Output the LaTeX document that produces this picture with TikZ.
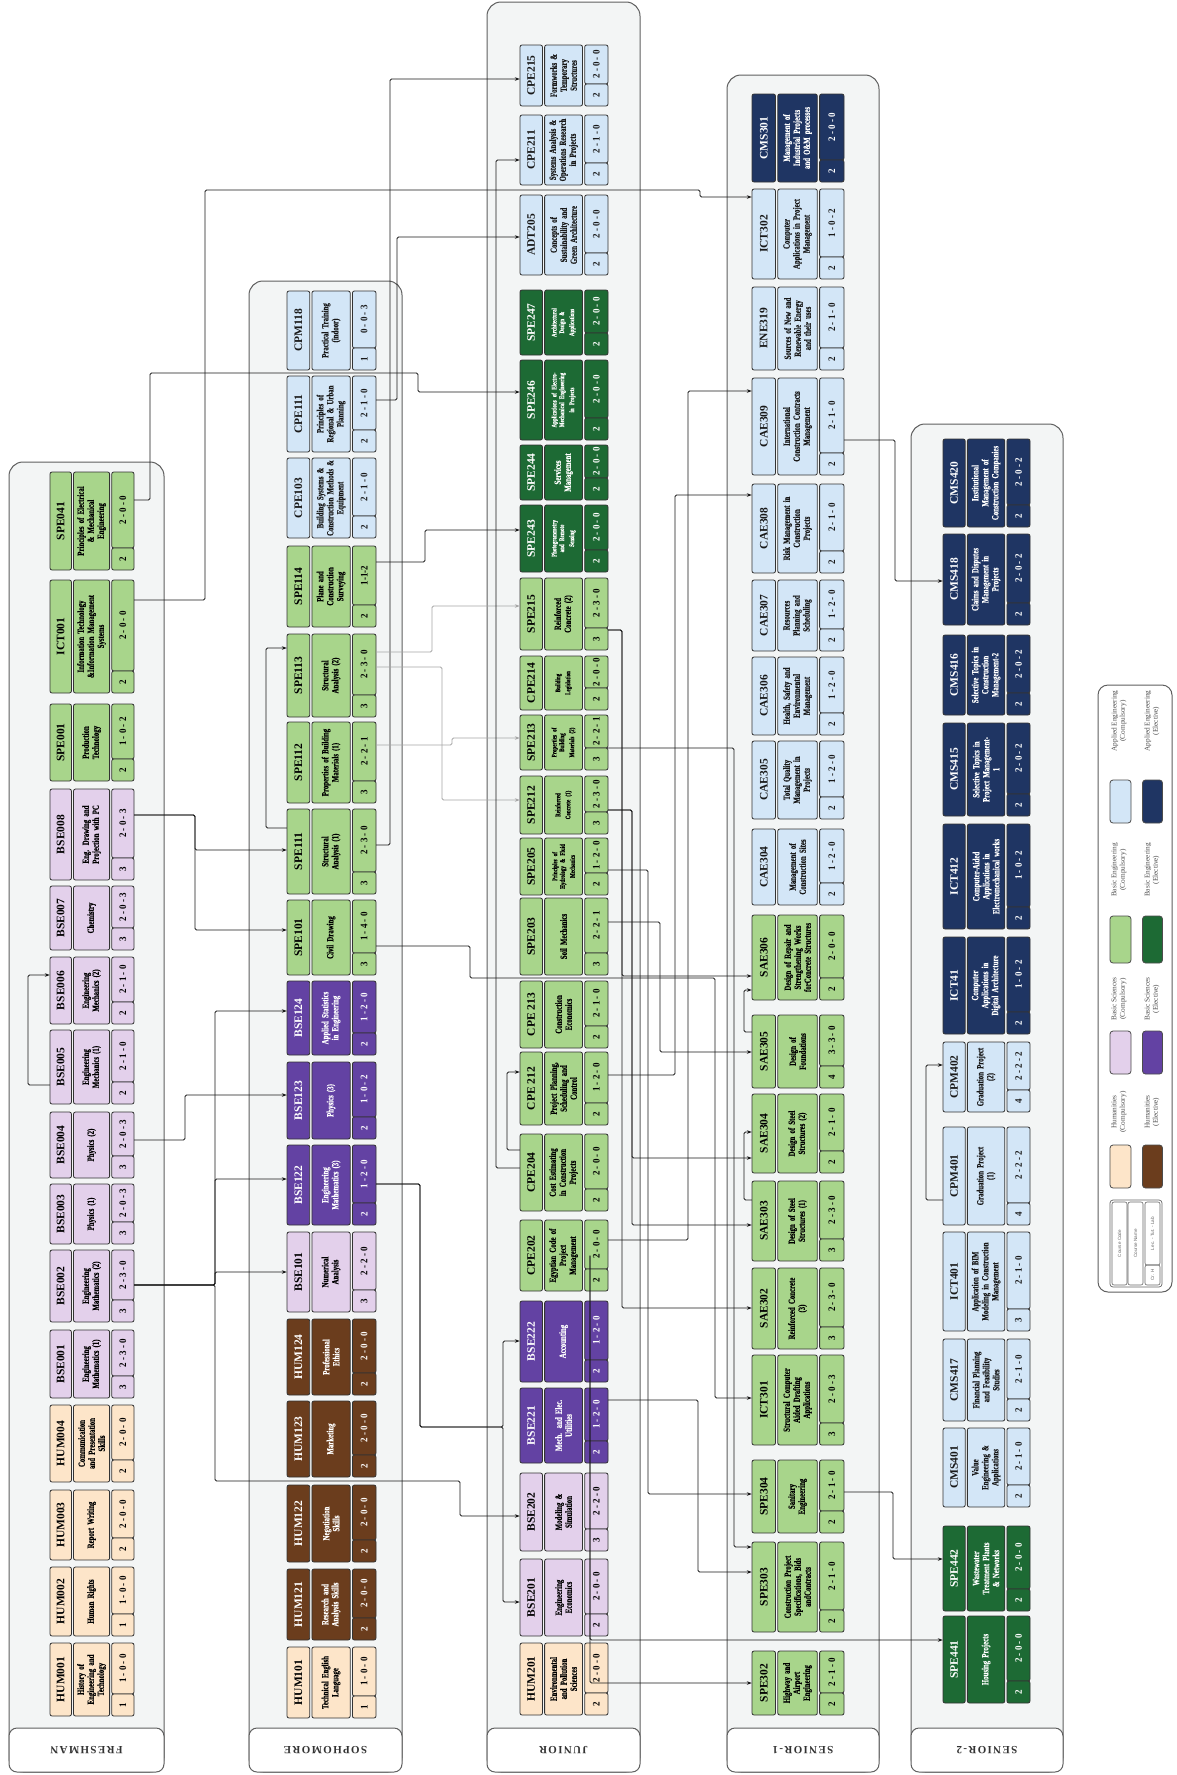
\documentclass[tikz,border=0pt]{standalone}
\usepackage{fontspec}
\setmainfont{Liberation Serif}
\newfontfamily\cardfont[FakeStretch=0.72,BoldFeatures={FakeBold=0.4}]{Liberation Serif}
\newfontfamily\numfam[FakeStretch=0.9]{Liberation Serif}
\newfontfamily\yearfont[LetterSpace=12]{Liberation Serif}
\newfontfamily\keyfont{Liberation Sans}
\usetikzlibrary{arrows.meta}
\definecolor{hc}{HTML}{FDE5C9}
\definecolor{he}{HTML}{6B3D1D}
\definecolor{sc}{HTML}{E3D0EB}
\definecolor{se}{HTML}{6342A3}
\definecolor{ec}{HTML}{A8D58B}
\definecolor{ee}{HTML}{1D6A34}
\definecolor{ac}{HTML}{D3E6F7}
\definecolor{ae}{HTML}{1F3563}
\definecolor{panelfill}{HTML}{F3F5F5}
\definecolor{panelline}{HTML}{5F5F5F}
\newcommand\codefont{\bfseries\fontsize{11.5}{12}\selectfont}
\newcommand\namefont{\cardfont\bfseries\fontsize{9.5}{10}\selectfont}
\newcommand\numfont{\numfam\bfseries\fontsize{10}{10}\selectfont}
\newcommand\smallnm{\fontsize{7}{7.6}\selectfont}
\def\cardw{84}
\def\crh{22}
\tikzset{
 strip/.style={draw=black!80, line width=0.8pt, rounded corners=2pt, rotate=90, inner sep=0.5pt, anchor=center},
 cHumC/.style={fill=hc,text=black},
 cHumE/.style={fill=he,text=white},
 cSciC/.style={fill=sc,text=black},
 cSciE/.style={fill=se,text=white},
 cEngC/.style={fill=ec,text=black},
 cEngE/.style={fill=ee,text=white},
 cAppC/.style={fill=ac,text=black!90},
 cAppE/.style={fill=ae,text=white},
 cardnode/.style={inner sep=0pt, draw=none},
 conn/.style={draw=black!90, line width=0.8pt, rounded corners=1.5pt, -{Stealth[length=5pt,width=3.6pt]}},
 gconn/.style={conn, draw=black!35},
 panel/.style={fill=panelfill, draw=panelline, line width=1pt, rounded corners=14pt},
 yearbox/.style={fill=white, draw=panelline, line width=1pt, rounded corners=8pt, inner sep=0pt, font=\yearfont\bfseries\fontsize{11}{12}\selectfont, text=black!80, rotate=180},
 legsw/.style={draw=black!70, line width=0.8pt, rounded corners=3pt, inner sep=0pt},
 legtxt/.style={rotate=90, align=center, inner sep=0pt, font=\fontsize{7.3}{8.3}\selectfont, text=black!70},
 keytxt/.style={rotate=90, inner sep=0pt, font=\keyfont\fontsize{4.6}{5}\selectfont, text=black!60},
 keystrip/.style={draw=black!60, line width=0.6pt, rounded corners=2pt, inner sep=0pt},
}
\newcommand{\crs}[9]{%
\pgfmathsetmacro\cHH{#4-#3}%
\pgfmathsetmacro\cYY{(#3+#4)/2}%
\pgfmathsetmacro\cWa{0.255*\cardw}%
\pgfmathsetmacro\cWb{0.43*\cardw}%
\pgfmathsetmacro\cWc{0.265*\cardw}%
\pgfmathsetmacro\cXm{#2+\cardw/2}%
\pgfmathsetmacro\cXa{#2+\cWa/2}%
\pgfmathsetmacro\cXb{#2+0.28*\cardw+\cWb/2}%
\pgfmathsetmacro\cXc{#2+\cardw-\cWc/2}%
\pgfmathsetmacro\cTw{\cHH-3}%
\pgfmathsetmacro\cHl{\cHH-\crh}%
\pgfmathsetmacro\cYl{#3+\cHl/2}%
\pgfmathsetmacro\cYk{#4-\crh/2}%
\node[cardnode,minimum width=\cardw pt,minimum height=\cHH pt] (#1) at (\cXm,\cYY) {};%
\node[strip,#5,minimum width=\cHH pt,minimum height=\cWa pt,font=\codefont] (#1-c) at (\cXa,\cYY) {#6};%
\node[strip,#5,minimum width=\cHH pt,minimum height=\cWb pt,text width=\cTw pt,align=center,font=\namefont] (#1-n) at (\cXb,\cYY) {#7};%
\node[strip,#5,minimum width=\cHl pt,minimum height=\cWc pt,font=\numfont] (#1-l) at (\cXc,\cYl) {#8};%
\node[strip,#5,minimum width=\crh pt,minimum height=\cWc pt,font=\numfont] (#1-k) at (\cXc,\cYk) {#9};%
}
\begin{document}
\begin{tikzpicture}[x=1pt,y=-1pt]
\useasboundingbox (0,0) rectangle (1176,1775);
\fill[white] (0,0) rectangle (1176,1775);
% ---------- panels ----------
\draw[panel] (9,462) rectangle (164,1772);
\draw[panel] (249,281) rectangle (402,1772);
\draw[panel] (487,2) rectangle (640,1772);
\draw[panel] (727,75) rectangle (879,1772);
\draw[panel] (911,424) rectangle (1063,1772);
\node[yearbox, minimum width=155pt, minimum height=44pt] (yFR) at (86.5,1750) {FRESHMAN};
\node[yearbox, minimum width=153pt, minimum height=44pt] (ySO) at (325.5,1750) {SOPHOMORE};
\node[yearbox, minimum width=153pt, minimum height=44pt] (yJU) at (563.5,1750) {JUNIOR};
\node[yearbox, minimum width=152pt, minimum height=44pt] (yS1) at (803,1750) {SENIOR-1};
\node[yearbox, minimum width=152pt, minimum height=44pt] (yS2) at (987,1750) {SENIOR-2};
% ---------- Freshman ----------
\def\cardw{84}
\crs{SPE041}{50}{472}{570}{cEngC}{SPE041}{Principles of Electrical\\\& Mechanical\\Engineering}{2 - 0 - 0}{2}
\crs{ICT001}{50}{580}{693}{cEngC}{ICT001}{Information Technology\\\&Information Management\\Systems}{2 - 0 - 0}{2}
\crs{SPE001}{50}{704}{781}{cEngC}{SPE001}{Production\\Technology}{1 - 0 - 2}{2}
\crs{BSE008}{50}{789}{880}{cSciC}{BSE008}{Eng. Drawing and\\Projection with PC}{2 - 0 - 3}{3}
\crs{BSE007}{50}{886}{950}{cSciC}{BSE007}{Chemistry}{2 - 0 - 3}{3}
\crs{BSE006}{50}{957}{1024}{cSciC}{BSE006}{Engineering\\Mechanics (2)}{2 - 1 - 0}{2}
\crs{BSE005}{50}{1030}{1104}{cSciC}{BSE005}{Engineering\\Mechanics (1)}{2 - 1 - 0}{2}
\crs{BSE004}{50}{1112}{1178}{cSciC}{BSE004}{Physics (2)}{2 - 0 - 3}{3}
\crs{BSE003}{50}{1184}{1244}{cSciC}{BSE003}{Physics (1)}{2 - 0 - 3}{3}
\crs{BSE002}{50}{1250}{1322}{cSciC}{BSE002}{Engineering\\Mathematics (2)}{2 - 3 - 0}{3}
\crs{BSE001}{50}{1330}{1398}{cSciC}{BSE001}{Engineering\\Mathematics (1)}{2 - 3 - 0}{3}
\crs{HUM004}{50}{1405}{1482}{cHumC}{HUM004}{Communication\\and Presentation\\Skills}{2 - 0 - 0}{2}
\crs{HUM003}{50}{1490}{1560}{cHumC}{HUM003}{Report Writing}{2 - 0 - 0}{2}
\crs{HUM002}{50}{1567}{1636}{cHumC}{HUM002}{Human Rights}{1 - 0 - 0}{1}
\crs{HUM001}{50}{1643}{1716}{cHumC}{HUM001}{History of\\Engineering and\\Technology}{1 - 0 - 0}{1}
% ---------- Sophomore ----------
\def\cardw{89}
\crs{CPM118}{287}{291}{370}{cAppC}{CPM118}{Practical Training\\(indoor)}{0 - 0 - 3}{1}
\crs{CPE111}{287}{376}{452}{cAppC}{CPE111}{Principles of\\Regional \& Urban\\Planning}{2 - 1 - 0}{2}
\crs{CPE103}{287}{458}{538}{cAppC}{CPE103}{Building Systems \&\\Construction Methods \&\\Equipment}{2 - 1 - 0}{2}
\crs{SPE114}{287}{546}{627}{cEngC}{SPE114}{Plane and\\Construction\\Surveying}{1-1-2}{2}
\crs{SPE113}{287}{634}{717}{cEngC}{SPE113}{Structural\\Analysis (2)}{2 - 3 - 0}{3}
\crs{SPE112}{287}{722}{803}{cEngC}{SPE112}{Properties of Building\\Materials (1)}{2 - 2 - 1}{3}
\crs{SPE111}{287}{809}{894}{cEngC}{SPE111}{Structural\\Analysis (1)}{2 - 3 - 0}{3}
\crs{SPE101}{287}{900}{975}{cEngC}{SPE101}{Civil Drawing}{1 - 4 - 0}{3}
\crs{BSE124}{287}{981}{1055}{cSciE}{BSE124}{Applied Statistics\\in Engineering}{1 - 2 - 0}{2}
\crs{BSE123}{287}{1062}{1139}{cSciE}{BSE123}{Physics (3)}{1 - 0 - 2}{2}
\crs{BSE122}{287}{1145}{1225}{cSciE}{BSE122}{Engineering\\Mathematics (3)}{1 - 2 - 0}{2}
\crs{BSE101}{287}{1232}{1312}{cSciC}{BSE101}{Numerical\\Analysis}{2 - 2 - 0}{3}
\crs{HUM124}{287}{1319}{1395}{cHumE}{HUM124}{Professional\\Ethics}{2 - 0 - 0}{2}
\crs{HUM123}{287}{1401}{1477}{cHumE}{HUM123}{Marketing}{2 - 0 - 0}{2}
\crs{HUM122}{287}{1485}{1562}{cHumE}{HUM122}{Negotiation\\Skills}{2 - 0 - 0}{2}
\crs{HUM121}{287}{1569}{1640}{cHumE}{HUM121}{Research and\\Analysis Skills}{2 - 0 - 0}{2}
\crs{HUM101}{287}{1647}{1718}{cHumC}{HUM101}{Technical English\\Language}{1 - 0 - 0}{1}
% ---------- Junior ----------
\def\cardw{88}
\crs{CPE215}{520}{45}{106}{cAppC}{CPE215}{Formworks \&\\Temporary\\Structures}{2 - 0 - 0}{2}
\crs{CPE211}{520}{115}{185}{cAppC}{CPE211}{Systems Analysis \&\\Operations Research\\in Projects}{2 - 1 - 0}{2}
\crs{ADT205}{520}{195}{275}{cAppC}{ADT205}{Concepts of\\Sustainability and\\Green Architecture}{2 - 0 - 0}{2}
\crs{SPE247}{520}{290}{355}{cEngE}{SPE247}{\smallnm Architectural\\Design \&\\Applications}{2 - 0 - 0}{2}
\crs{SPE246}{520}{360}{440}{cEngE}{SPE246}{\smallnm Applications of Electro-\\Mechanical Engineering\\in Projects}{2 - 0 - 0}{2}
\crs{SPE244}{520}{445}{500}{cEngE}{SPE244}{Services\\Management}{2 - 0 - 0}{2}
\crs{SPE243}{520}{505}{572}{cEngE}{SPE243}{\smallnm Photogrammetry\\and Remote\\Sensing}{2 - 0 - 0}{2}
\crs{SPE215}{520}{578}{650}{cEngC}{SPE215}{Reinforced\\Concrete (2)}{2 - 3 - 0}{3}
\crs{CPE214}{520}{656}{710}{cEngC}{CPE214}{\smallnm Building\\Legislation}{2 - 0 - 0}{2}
\crs{SPE213}{520}{715}{770}{cEngC}{SPE213}{\smallnm Properties of\\Building\\Materials (2)}{2 - 2 - 1}{3}
\crs{SPE212}{520}{776}{834}{cEngC}{SPE212}{\smallnm Reinforced\\Concrete (1)}{2 - 3 - 0}{3}
\crs{SPE205}{520}{838}{895}{cEngC}{SPE205}{\smallnm Principles of\\Hydrology \& Fluid\\Mechanics}{1 - 2 - 0}{2}
\crs{SPE203}{520}{898}{975}{cEngC}{SPE203}{Soil Mechanics}{2 - 2 - 1}{3}
\crs{CPE213}{520}{981}{1048}{cEngC}{CPE 213}{Construction\\Economics}{2 - 1 - 0}{2}
\crs{CPE212}{520}{1052}{1125}{cEngC}{CPE 212}{Project Planning,\\Scheduling and\\Control}{1 - 2 - 0}{2}
\crs{CPE204}{520}{1134}{1211}{cEngC}{CPE204}{Cost Estimating\\in Construction\\Projects}{2 - 0 - 0}{2}
\crs{CPE202}{520}{1220}{1291}{cEngC}{CPE202}{Egyptian Code of\\Project\\Management}{2 - 0 - 0}{2}
\crs{BSE222}{520}{1301}{1382}{cSciE}{BSE222}{Accounting}{1 - 2 - 0}{2}
\crs{BSE221}{520}{1388}{1463}{cSciE}{BSE221}{Mech. and Elec.\\Utilities}{1 - 2 - 0}{2}
\crs{BSE202}{520}{1473}{1551}{cSciC}{BSE202}{Modeling \&\\Simulation}{2 - 2 - 0}{3}
\crs{BSE201}{520}{1559}{1636}{cSciC}{BSE201}{Engineering\\Economics}{2 - 0 - 0}{2}
\crs{HUM201}{520}{1643}{1715}{cHumC}{HUM201}{Environmental\\and Pollution\\Sciences}{2 - 0 - 0}{2}
% ---------- Senior-1 ----------
\def\cardw{92}
\crs{CMS301}{752}{94}{182}{cAppE}{CMS301}{Management of\\Industrial Projects\\and O\&M processes}{2 - 0 - 0}{2}
\crs{ICT302}{752}{189}{279}{cAppC}{ICT302}{Computer\\Applications in Project\\Management}{1 - 0 - 2}{2}
\crs{ENE319}{752}{287}{370}{cAppC}{ENE319}{Sources of New and\\Renewable Energy\\and their uses}{2 - 1 - 0}{2}
\crs{CAE309}{752}{378}{475}{cAppC}{CAE309}{International\\Construction Contracts\\Management}{2 - 1 - 0}{2}
\crs{CAE308}{752}{484}{573}{cAppC}{CAE308}{Risk Management in\\Construction\\Projects}{2 - 1 - 0}{2}
\crs{CAE307}{752}{580}{651}{cAppC}{CAE307}{Resources\\Planning and\\Scheduling}{1 - 2 - 0}{2}
\crs{CAE306}{752}{657}{735}{cAppC}{CAE306}{Health, Safety and\\Environmental\\Management}{1 - 2 - 0}{2}
\crs{CAE305}{752}{741}{819}{cAppC}{CAE305}{Total Quality\\Management in\\Projects}{1 - 2 - 0}{2}
\crs{CAE304}{752}{829}{905}{cAppC}{CAE304}{Management of\\Construction Sites}{1 - 2 - 0}{2}
\crs{SAE306}{752}{915}{1000}{cEngC}{SAE306}{Design of Repair and\\Strengthening Works\\forConcrete Structures}{2 - 0 - 0}{2}
\crs{SAE305}{752}{1015}{1088}{cEngC}{SAE305}{Design of\\Foundations}{3 - 3 - 0}{4}
\crs{SAE304}{752}{1094}{1173}{cEngC}{SAE304}{Design of Steel\\Structures (2)}{2 - 1 - 0}{2}
\crs{SAE303}{752}{1181}{1261}{cEngC}{SAE303}{Design of Steel\\Structures (1)}{2 - 3 - 0}{3}
\crs{SAE302}{752}{1268}{1349}{cEngC}{SAE302}{Reinforced Concrete\\(3)}{2 - 3 - 0}{3}
\crs{ICT301}{752}{1355}{1445}{cEngC}{ICT301}{Structural Computer\\Aided Drafting\\Applications}{2 - 0 - 3}{3}
\crs{SPE304}{752}{1460}{1533}{cEngC}{SPE304}{Sanitary\\Engineering}{2 - 1 - 0}{2}
\crs{SPE303}{752}{1542}{1632}{cEngC}{SPE303}{Construction Project\\Specifications, Bids\\andContracts}{2 - 1 - 0}{2}
\crs{SPE302}{752}{1651}{1715}{cEngC}{SPE302}{Highway and\\Airport\\Engineering}{2 - 1 - 0}{2}
% ---------- Senior-2 ----------
\def\cardw{87}
\crs{CMS420}{943}{439}{527}{cAppE}{CMS420}{Institutional\\Management of\\Construction Companies}{2 - 0 - 2}{2}
\crs{CMS418}{943}{534}{625}{cAppE}{CMS418}{Claims and Disputes\\Management in\\Projects}{2 - 0 - 2}{2}
\crs{CMS416}{943}{635}{715}{cAppE}{CMS416}{Selective Topics in\\Construction\\Management-2}{2 - 0 - 2}{2}
\crs{CMS415}{943}{723}{816}{cAppE}{CMS415}{Selective Topics in\\Project Management-\\1}{2 - 0 - 2}{2}
\crs{ICT412}{943}{824}{929}{cAppE}{ICT412}{Computer-Aided\\Applications in\\Electromechanical works}{1 - 0 - 2}{2}
\crs{ICT41}{943}{937}{1034}{cAppE}{ICT41}{Computer\\Applications in\\Digital Architecture}{1 - 0 - 2}{2}
\crs{CPM402}{943}{1042}{1112}{cAppC}{CPM402}{Graduation Project\\(2)}{2 - 2 - 2}{4}
\crs{CPM401}{943}{1127}{1225}{cAppC}{CPM401}{Graduation Project\\(1)}{2 - 2 - 2}{4}
\crs{ICT401}{943}{1232}{1331}{cAppC}{ICT401}{Application of BIM\\Modeling in Construction\\Management}{2 - 1 - 0}{3}
\crs{CMS417}{943}{1339}{1421}{cAppC}{CMS417}{Financial Planning\\and Feasibility\\Studies}{2 - 1 - 0}{2}
\crs{CMS401}{943}{1428}{1507}{cAppC}{CMS401}{Value\\Engineering \&\\Applications}{2 - 1 - 0}{2}
\crs{SPE442}{943}{1526}{1611}{cEngE}{SPE442}{Wastewater\\Treatment Plants\\\& Networks}{2 - 0 - 0}{2}
\crs{SPE441}{943}{1616}{1703}{cEngE}{SPE441}{Housing Projects}{2 - 0 - 0}{2}
% ---------- connectors ----------
\draw[conn] (SPE041.east|-0,500) -- (150,500) |- (418,373) |- (SPE246.west|-0,392);
\draw[conn] (ICT001.east|-0,600) -- (205,600) |- (700,190) |- (ICT302.west|-0,197);
\draw[conn] (BSE008.east|-0,815) -- (195,815) |- (SPE111.west|-0,850);
\draw[conn] (BSE008.east|-0,815) -- (195,815) |- (SPE101.west|-0,930);
\draw[conn] (BSE005.west|-0,1085) -- (28,1085) |- (BSE006.west|-0,975);
\draw[conn] (BSE004.east|-0,1140) -- (185,1140) |- (BSE123.west|-0,1095);
\draw[conn] (BSE002.east|-0,1285) -- (215,1285) |- (BSE124.west|-0,1011);
\draw[conn] (BSE002.east|-0,1285) -- (215,1285) |- (BSE122.west|-0,1179);
\draw[conn] (BSE002.east|-0,1285) -- (215,1285) |- (BSE101.west|-0,1272);
\draw[conn] (BSE002.east|-0,1285) -- (215,1285) |- (460,1481) |- (BSE202.west|-0,1516);
\draw[conn] (SPE111.west|-0,828) -- (266,828) |- (SPE113.west|-0,648);
\draw[conn] (SPE111.east|-0,845) -- (390,845) |- (CPE215.west|-0,79);
\draw[conn] (CPE111.east|-0,400) -- (397,400) |- (ADT205.west|-0,237);
\draw[conn] (SPE114.east|-0,562) -- (425,562) |- (SPE243.west|-0,530);
\draw[gconn] (SPE113.east|-0,652) -- (432,652) |- (SPE215.west|-0,606);
\draw[gconn] (SPE113.east|-0,667) -- (442,667) |- (SPE212.west|-0,800);
\draw[gconn] (SPE112.east|-0,745) -- (452,745) |- (SPE213.west|-0,738);
\draw[conn] (SPE101.east|-0,946) -- (470,946) |- (715,978) |- (ICT301.west|-0,1398);
\draw[conn] (BSE122.east|-0,1184) -- (420,1184) |- (503,1427) |- (BSE222.west|-0,1341);
\draw[conn] (BSE122.east|-0,1184) -- (420,1184) |- (503,1427) |- (BSE201.west|-0,1602);
\draw[conn] (CPE204.west|-0,1150) -- (507,1150) |- (CPE212.west|-0,1072);
\draw[conn] (CPE204.west|-0,1168) -- (496,1168) |- (CPE211.west|-0,160);
\draw[conn] (SPE203.east|-0,922) -- (660,922) |- (SAE305.west|-0,1052);
\draw[conn] (SPE215.east|-0,630) -- (622,630) |- (SAE306.west|-0,976);
\draw[conn] (SPE215.east|-0,630) -- (622,630) |- (SAE302.west|-0,1308);
\draw[conn] (SPE212.east|-0,810) -- (632,810) |- (SAE303.west|-0,1225);
\draw[conn] (SPE212.east|-0,810) -- (632,810) |- (SAE304.west|-0,1158);
\draw[conn] (SPE205.east|-0,870) -- (648,870) |- (SPE304.west|-0,1494);
\draw[conn] (SPE213.east|-0,748) -- (734,748) |- (SPE303.west|-0,1547);
\draw[conn] (CPE212.east|-0,1075) -- (675,1075) |- (CAE308.west|-0,495);
\draw[conn] (CPE202.east|-0,1240) -- (688,1240) |- (CAE309.west|-0,391);
\draw[conn] (BSE221.east|-0,1400) -- (698,1400) |- (SPE303.west|-0,1572);
\draw[conn] (CPE202.east -| 590,0) |- (SPE302.west|-0,1683);
\draw[conn] (CPE202.east -| 590,0) |- (SPE441.west|-0,1640);
\draw[conn] (SAE305.west|-0,1032) -- (744,1032) |- (SAE306.west|-0,990);
\draw[conn] (SAE303.west|-0,1200) -- (744,1200) |- (SAE304.west|-0,1132);
\draw[conn] (CAE309.east|-0,440) -- (895,440) |- (CMS418.west|-0,581);
\draw[conn] (SPE304.east|-0,1492) -- (893,1492) |- (SPE442.west|-0,1559);
\draw[conn] (CPM401.west|-0,1200) -- (926,1200) |- (CPM402.west|-0,1065);
% ---------- legend ----------
\node[draw=panelline, line width=1pt, rounded corners=10pt, fill=white, minimum width=74pt, minimum height=607pt, inner sep=0pt] (legend) at (1135,988.5) {};
\node[legtxt] (tAC) at (1119,721) {Applied Engineering\\(Compulsory)};
\node[legtxt] (tAE) at (1152,721) {Applied Engineering\\(Elective)};
\node[legsw, fill=ac, minimum width=21pt, minimum height=43pt] (sAC) at (1120.5,801.5) {};
\node[legsw, fill=ae, minimum width=20pt, minimum height=43pt] (sAE) at (1152.5,801.5) {};
\node[legtxt] (tEC) at (1119,870) {Basic Engineering\\(Compulsory)};
\node[legtxt] (tEE) at (1152,870) {Basic Engineering\\(Elective)};
\node[legsw, fill=ec, minimum width=21pt, minimum height=47pt] (sEC) at (1120.5,939.5) {};
\node[legsw, fill=ee, minimum width=20pt, minimum height=47pt] (sEE) at (1152.5,939.5) {};
\node[legtxt] (tSC) at (1119,999) {Basic Sciences\\(Compulsory)};
\node[legtxt] (tSE) at (1152,999) {Basic Sciences\\(Elective)};
\node[legsw, fill=sc, minimum width=21pt, minimum height=43pt] (sSC) at (1120.5,1052.5) {};
\node[legsw, fill=se, minimum width=20pt, minimum height=43pt] (sSE) at (1152.5,1052.5) {};
\node[legtxt] (tHC) at (1119,1112) {Humanities\\(Compulsory)};
\node[legtxt] (tHE) at (1152,1112) {Humanities\\(Elective)};
\node[legsw, fill=hc, minimum width=21pt, minimum height=43pt] (sHC) at (1120.5,1166.5) {};
\node[legsw, fill=he, minimum width=20pt, minimum height=43pt] (sHE) at (1152.5,1166.5) {};
\node[draw=black!60, line width=0.7pt, rounded corners=3pt, minimum width=52pt, minimum height=87pt, inner sep=0pt] (keybox) at (1136,1243.5) {};
\node[keystrip, minimum width=15pt, minimum height=83pt] (kCode) at (1119.5,1243.5) {};
\node[keystrip, minimum width=15pt, minimum height=83pt] (kName) at (1135.5,1243.5) {};
\node[keystrip, minimum width=15pt, minimum height=63pt] (kLtl) at (1152.5,1233.5) {};
\node[keystrip, minimum width=15pt, minimum height=20pt] (kCr) at (1152.5,1275) {};
\node[keytxt] (kt1) at (kCode) {Course Code};
\node[keytxt] (kt2) at (kName) {Course Name};
\node[keytxt] (kt3) at (kLtl) {Lec. - Tut. - Lab};
\node[keytxt] (kt4) at (kCr) {Cr. H};
\end{tikzpicture}
\end{document}
